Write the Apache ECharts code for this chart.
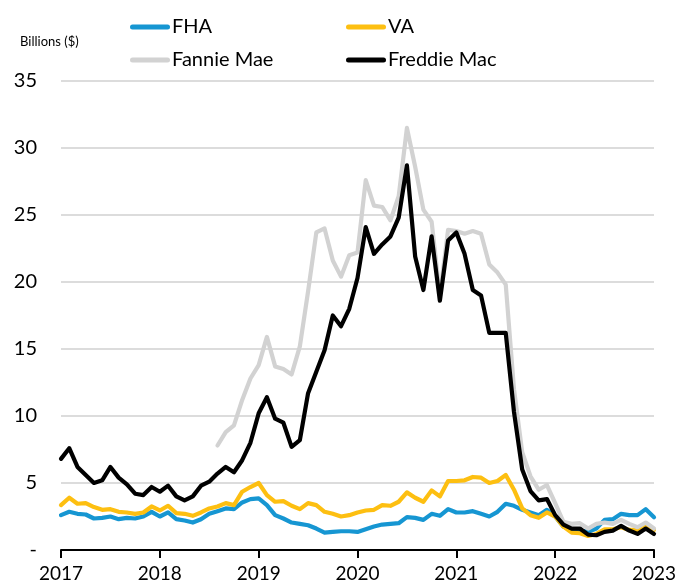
<!DOCTYPE html>
<html>
<head>
<meta charset="utf-8">
<script src="https://cdn.jsdelivr.net/npm/echarts@6/dist/echarts.min.js"></script>
<style>
  html, body { margin: 0; padding: 0; background: #fff; }
  #chart { width: 686px; height: 588px; }
</style>
</head>
<body>
<div id="chart"></div>
<script>
  // monthly, Jan 2017 .. Jan 2023
  var months = [];
  for (var y = 2017; y <= 2023; y++) {
    for (var m = 1; m <= 12; m++) {
      if (y === 2023 && m > 1) break;
      months.push(y + '-' + (m < 10 ? '0' + m : m));
    }
  }

  var fha = [2.6, 2.85, 2.7, 2.65, 2.35, 2.4, 2.5, 2.3, 2.4, 2.35, 2.5, 2.85,
    2.5, 2.8, 2.3, 2.2, 2.05, 2.3, 2.7, 2.9, 3.1, 3.05, 3.55, 3.8,
    3.85, 3.35, 2.6, 2.35, 2.05, 1.95, 1.85, 1.6, 1.3, 1.35, 1.4, 1.4,
    1.35, 1.55, 1.75, 1.9, 1.95, 2.0, 2.45, 2.4, 2.25, 2.7, 2.55, 3.05,
    2.8, 2.8, 2.9, 2.7, 2.5, 2.85, 3.45, 3.3, 3.0, 2.8, 2.6, 3.0,
    2.5, 1.75, 1.5, 1.45, 1.35, 1.6, 2.25, 2.3, 2.7, 2.6, 2.6, 3.05,
    2.45];
  var va = [3.35, 3.9, 3.45, 3.5, 3.2, 3.0, 3.05, 2.85, 2.8, 2.7, 2.8, 3.25,
    2.95, 3.3, 2.75, 2.7, 2.55, 2.8, 3.1, 3.25, 3.5, 3.35, 4.35, 4.7,
    5.0, 4.1, 3.6, 3.65, 3.3, 3.05, 3.5, 3.35, 2.85, 2.7, 2.5, 2.6,
    2.8, 2.95, 3.0, 3.35, 3.3, 3.6, 4.3, 3.9, 3.6, 4.45, 4.0, 5.15,
    5.15, 5.2, 5.45, 5.4, 5.0, 5.15, 5.6, 4.5, 3.1, 2.6, 2.4, 2.8,
    2.5, 1.75, 1.3, 1.25, 1.05, 1.2, 1.55, 1.55, 1.7, 1.5, 1.5, 1.8,
    1.5];
  var fannie = [null, null, null, null, null, null, null, null, null, null, null, null,
    null, null, null, null, null, null, null, 7.8, 8.8, 9.3, 11.2, 12.8,
    13.8, 15.9, 13.7, 13.5, 13.1, 15.2, 19.3, 23.7, 24.0, 21.6, 20.4, 22.0,
    22.2, 27.6, 25.7, 25.6, 24.6, 26.4, 31.5, 28.6, 25.4, 24.5, 19.0, 23.9,
    23.8, 23.6, 23.8, 23.6, 21.3, 20.7, 19.8, 12.0, 7.3, 5.5, 4.5, 4.85,
    3.5, 2.1, 1.95, 2.0, 1.6, 1.95, 2.05, 1.95, 2.25, 1.95, 1.7, 2.05,
    1.6];
  var freddie = [6.8, 7.6, 6.2, 5.6, 5.0, 5.2, 6.2, 5.4, 4.9, 4.2, 4.1, 4.7,
    4.35, 4.8, 4.0, 3.7, 4.0, 4.8, 5.1, 5.7, 6.2, 5.8, 6.7, 8.0,
    10.2, 11.4, 9.8, 9.5, 7.7, 8.2, 11.7, 13.3, 14.9, 17.5, 16.7, 18.0,
    20.3, 24.1, 22.1, 22.8, 23.4, 24.8, 28.7, 21.9, 19.4, 23.4, 18.6, 23.1,
    23.7, 22.1, 19.4, 19.0, 16.2, 16.2, 16.2, 10.3, 6.0, 4.4, 3.7, 3.8,
    2.6, 1.9, 1.6, 1.6, 1.15, 1.1, 1.35, 1.45, 1.8, 1.45, 1.2, 1.6,
    1.2];

  var seriesNames = ['FHA', 'VA', 'Fannie Mae', 'Freddie Mac'];
  var seriesColors = ['#1696d2', '#fdbf11', '#d2d2d2', '#000000'];
  var seriesData = [fha, va, fannie, freddie];

  var font = 'Lato, "Noto Sans", sans-serif';
  var chart = echarts.init(document.getElementById('chart'));

  // rounded line used as legend key
  var keyIcon = 'path://M2.5,0 L37.5,0 A2.5,2.5 0 0 1 37.5,5 L2.5,5 A2.5,2.5 0 0 1 2.5,0 Z';

  // one legend per item so the two columns line up
  var legendPos = [[130, 17], [346, 17], [130, 50], [346, 50]];
  var legends = seriesNames.map(function (name, i) {
    return {
      data: [{ name: name, icon: keyIcon }],
      left: legendPos[i][0],
      top: legendPos[i][1],
      itemWidth: 40,
      itemHeight: 5,
      itemGap: 0,
      padding: 0,
      textStyle: { fontFamily: font, fontSize: 20, color: '#000', padding: [0, 0, 0, -3] }
    };
  });

  var option = {
    animation: false,
    backgroundColor: '#fff',
    textStyle: { fontFamily: font },
    legend: legends,
    graphic: [{
      type: 'text',
      left: 20,
      top: 35,
      style: { text: 'Billions ($)', fontFamily: font, fontSize: 13, fill: '#000' }
    }],
    grid: { left: 61, right: 32, top: 81, bottom: 38, containLabel: false },
    xAxis: {
      type: 'category',
      boundaryGap: false,
      data: months,
      axisLine: { lineStyle: { color: '#000', width: 2 } },
      axisTick: { interval: 11, length: 8, lineStyle: { color: '#000', width: 2 } },
      axisLabel: {
        interval: 11,
        margin: 14,
        fontSize: 19,
        color: '#000',
        fontFamily: font,
        formatter: function (v) { return v.slice(0, 4); }
      },
      splitLine: { show: false }
    },
    yAxis: {
      type: 'value',
      min: 0,
      max: 35,
      interval: 5,
      axisLine: { show: false },
      axisTick: { show: false },
      axisLabel: {
        margin: 24,
        fontSize: 20,
        color: '#000',
        fontFamily: font,
        formatter: function (v) { return v === 0 ? '-' : v; }
      },
      splitLine: { lineStyle: { color: '#dcdcdc', width: 2 } }
    },
    series: seriesNames.map(function (name, i) {
      return {
        name: name,
        type: 'line',
        data: seriesData[i],
        symbol: 'none',
        connectNulls: false,
        color: seriesColors[i],
        lineStyle: { color: seriesColors[i], width: 4.2, cap: 'round', join: 'round' },
        z: 2 + i
      };
    })
  };

  chart.setOption(option);
</script>
</body>
</html>
